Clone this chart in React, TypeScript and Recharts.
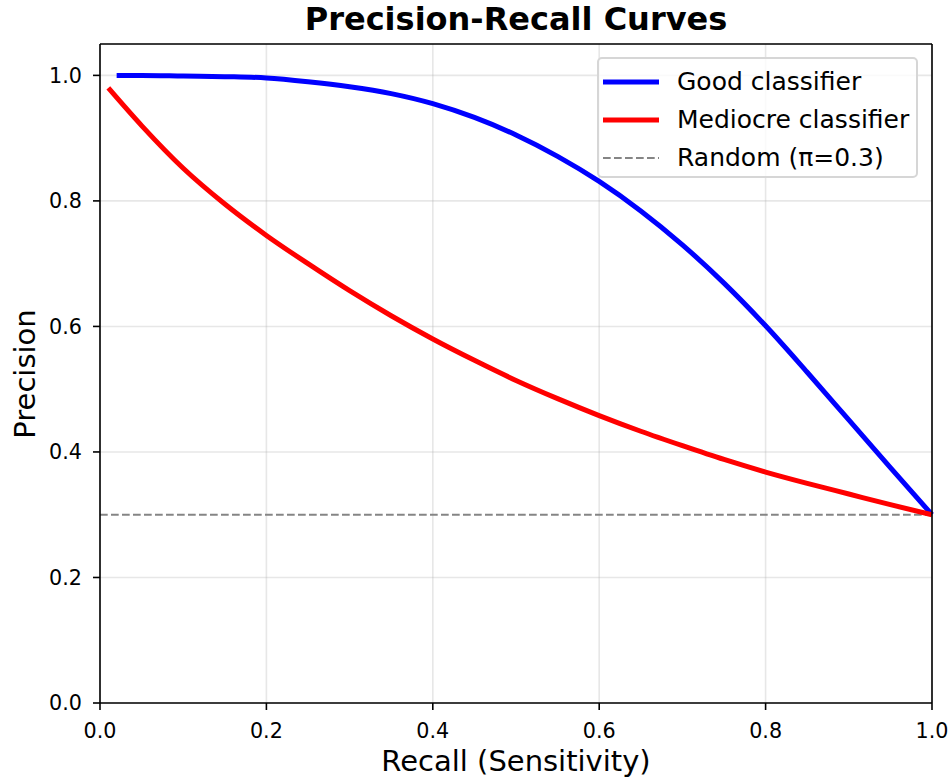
import { LineChart, Line, XAxis, YAxis, CartesianGrid, ReferenceLine, Legend } from 'recharts'

// tick positions on both axes
const recallTicks = [0, 0.2, 0.4, 0.6, 0.8, 1.0]
const precisionTicks = [0, 0.2, 0.4, 0.6, 0.8, 1.0]

// good classifier (blue)
const goodRecall = [0.02, 0.05, 0.1, 0.15, 0.2, 0.25, 0.3, 0.35, 0.4, 0.45, 0.5, 0.55, 0.6, 0.65, 0.7, 0.75, 0.8, 0.85, 0.9, 0.95, 1.0]
const goodPrecision = [1.0, 1.0, 0.999, 0.998, 0.996, 0.99, 0.982, 0.971, 0.955, 0.933, 0.905, 0.871, 0.831, 0.784, 0.73, 0.669, 0.601, 0.527, 0.451, 0.375, 0.3]

// mediocre classifier (red)
const mediocreRecall = [0.01, 0.05, 0.1, 0.15, 0.2, 0.25, 0.3, 0.35, 0.4, 0.45, 0.5, 0.55, 0.6, 0.65, 0.7, 0.75, 0.8, 0.85, 0.9, 0.95, 1.0]
const mediocrePrecision = [0.98, 0.92, 0.852, 0.795, 0.745, 0.7, 0.657, 0.617, 0.58, 0.546, 0.514, 0.485, 0.458, 0.433, 0.41, 0.388, 0.368, 0.35, 0.333, 0.316, 0.3]

const baseline = 0.3
const seriesNames = ['Good classifier', 'Mediocre classifier', 'Random (π=0.3)']

const goodData = goodRecall.map((r, i) => ({ recall: r, precision: goodPrecision[i] }))
const mediocreData = mediocreRecall.map((r, i) => ({ recall: r, precision: mediocrePrecision[i] }))

const font = 'DejaVu Sans'
const legendStyles = [
  { stroke: '#0000ff', width: 5, dash: undefined },
  { stroke: '#ff0000', width: 5, dash: undefined },
  { stroke: '#858585', width: 2, dash: '7.7 3.3' },
]

function PRLegend() {
  return (
    <div
      style={{
        boxSizing: 'border-box',
        width: 321,
        height: 121,
        border: '2px solid #d6d6d6',
        borderRadius: 5,
        background: 'rgba(255,255,255,0.8)',
        padding: '3.5px 0 0 4px',
        fontFamily: font,
      }}
    >
      {seriesNames.map((name, i) => (
        <div key={name} style={{ display: 'flex', alignItems: 'center', height: 38 }}>
          <svg width={56} height={10} style={{ display: 'block' }}>
            <line
              x1={0}
              x2={56}
              y1={5}
              y2={5}
              stroke={legendStyles[i].stroke}
              strokeWidth={legendStyles[i].width}
              strokeDasharray={legendStyles[i].dash}
            />
          </svg>
          <span style={{ marginLeft: 18, fontSize: 25, lineHeight: 1, color: '#000', whiteSpace: 'nowrap' }}>{name}</span>
        </div>
      ))}
    </div>
  )
}

export default function App() {
  const tickStyle = { fill: '#000', fontSize: 20.7, fontFamily: font }
  const axisStroke = { stroke: '#000', strokeWidth: 1.6 }
  return (
    <div style={{ position: 'absolute', left: 0, top: 0, width: 950, height: 780, background: '#fff', fontFamily: font }}>
      <LineChart width={950} height={780} margin={{ top: 44, right: 18, bottom: 0, left: 0 }}>
        <CartesianGrid stroke="#b0b0b0" strokeOpacity={0.3} strokeWidth={1.6} />
        <XAxis
          type="number"
          dataKey="recall"
          domain={[0, 1]}
          ticks={recallTicks}
          interval={0}
          height={77}
          tickSize={7}
          tickMargin={13}
          tick={tickStyle}
          tickLine={axisStroke}
          axisLine={axisStroke}
          tickFormatter={(v: number) => v.toFixed(1)}
        />
        <YAxis
          type="number"
          domain={[0, 1.05]}
          ticks={precisionTicks}
          interval={0}
          width={100}
          tickSize={7}
          tickMargin={11}
          tick={tickStyle}
          tickLine={axisStroke}
          axisLine={axisStroke}
          tickFormatter={(v: number) => v.toFixed(1)}
        />
        <ReferenceLine y={baseline} stroke="#858585" strokeWidth={2} strokeDasharray="7.7 3.3" />
        <Line
          data={goodData}
          dataKey="precision"
          name={seriesNames[0]}
          type="monotone"
          stroke="#0000ff"
          strokeWidth={5}
          dot={false}
          isAnimationActive={false}
        />
        <Line
          data={mediocreData}
          dataKey="precision"
          name={seriesNames[1]}
          type="monotone"
          stroke="#ff0000"
          strokeWidth={5}
          dot={false}
          isAnimationActive={false}
        />
        {/* top and right spines */}
        <ReferenceLine y={1.05} stroke="#000" strokeWidth={1.6} />
        <ReferenceLine x={1} stroke="#000" strokeWidth={1.6} />
        <Legend
          layout="horizontal"
          verticalAlign="middle"
          align="center"
          wrapperStyle={{ left: 597, top: 57, width: 321, height: 121 }}
          content={() => <PRLegend />}
        />
      </LineChart>
      <svg width={950} height={780} style={{ position: 'absolute', left: 0, top: 0, pointerEvents: 'none' }}>
        <text x={516} y={30} textAnchor="middle" fontSize={32} fontWeight="bold" fontFamily={font} fill="#000">
          Precision-Recall Curves
        </text>
        <text x={516} y={771} textAnchor="middle" fontSize={29} fontFamily={font} fill="#000">
          Recall (Sensitivity)
        </text>
        <text transform="translate(35,374) rotate(-90)" textAnchor="middle" fontSize={29} fontFamily={font} fill="#000">
          Precision
        </text>
      </svg>
    </div>
  )
}
